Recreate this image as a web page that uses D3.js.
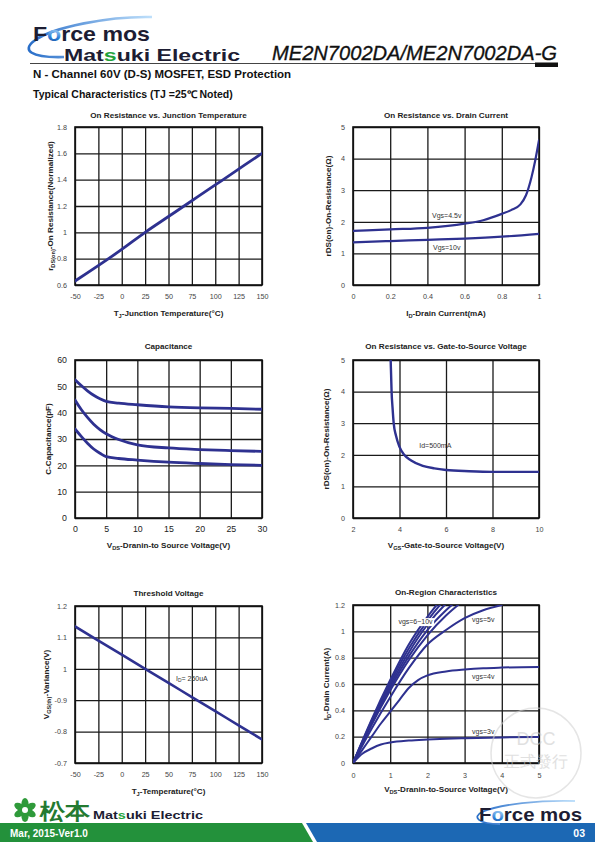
<!DOCTYPE html>
<html><head><meta charset="utf-8">
<script src="https://cdn.jsdelivr.net/npm/d3@7"></script>
<style>
body{margin:0;background:#fff}
svg{display:block}
text{font-family:"Liberation Sans",Arial,sans-serif}
</style>
</head><body>
<svg id="page" width="595" height="842"></svg>
<script>
// ---------------- DATA ----------------
// Chart 1: On Resistance vs. Junction Temperature
const c1Temp = [-50, 0, 25, 50, 75, 100, 125, 150];
const c1Res  = [0.63, 0.87, 1.0, 1.12, 1.24, 1.36, 1.48, 1.6];
const c1XTicks = [-50, -25, 0, 25, 50, 75, 100, 125, 150];
const c1YTicks = [0.6, 0.8, 1, 1.2, 1.4, 1.6, 1.8];
const c1YLabels = ["0.6", "0.8", "1", "1.2", "1.4", "1.6", "1.8"];

// Chart 2: On Resistance vs. Drain Current
const c2IdA = [0, 0.2, 0.4, 0.6, 0.7, 0.8, 0.85, 0.9, 0.93, 0.96, 0.98, 1.0];
const c2Vgs45 = [1.71, 1.76, 1.81, 1.94, 2.05, 2.25, 2.37, 2.55, 2.84, 3.42, 3.95, 4.58];
const c2IdB = [0, 0.2, 0.4, 0.6, 0.8, 1.0];
const c2Vgs10 = [1.35, 1.39, 1.43, 1.47, 1.53, 1.62];
const c2XTicks = [0, 0.2, 0.4, 0.6, 0.8, 1];
const c2XLabels = ["0", "0.2", "0.4", "0.6", "0.8", "1"];
const c2YTicks = [0, 1, 2, 3, 4, 5];

// Chart 3: Capacitance
const c3Vds = [0, 1, 2, 3, 4, 5, 7, 10, 15, 20, 25, 30];
const c3Ciss = [52.5, 50.3, 48.3, 46.6, 45.3, 44.3, 43.6, 43.0, 42.2, 41.8, 41.6, 41.3];
const c3Coss = [44.8, 41.2, 38.2, 35.6, 33.6, 32.0, 29.8, 27.8, 26.6, 26.0, 25.6, 25.3];
const c3Crss = [33.8, 31.0, 28.4, 26.2, 24.6, 23.3, 22.6, 22.0, 21.2, 20.7, 20.3, 20.0];
const c3XTicks = [0, 5, 10, 15, 20, 25, 30];
const c3YTicks = [0, 10, 20, 30, 40, 50, 60];

// Chart 4: On Resistance vs. Gate-to-Source Voltage
const c4Vgs = [3.62, 3.64, 3.66, 3.7, 3.75, 3.85, 4.0, 4.2, 4.5, 5.0, 5.5, 6.0, 7.0, 8.0, 10.0];
const c4Res = [5.0, 4.5, 4.0, 3.5, 3.0, 2.6, 2.25, 2.0, 1.82, 1.65, 1.57, 1.52, 1.48, 1.46, 1.46];
const c4XTicks = [2, 4, 6, 8, 10];
const c4YTicks = [0, 1, 2, 3, 4, 5];

// Chart 5: Threshold Voltage
const c5Temp = [-50, 0, 25, 50, 75, 100, 125, 150];
const c5Vth  = [1.135, 1.045, 1.0, 0.955, 0.91, 0.865, 0.82, 0.775];
const c5XTicks = [-50, -25, 0, 25, 50, 75, 100, 125, 150];
const c5YTicks = [0.7, 0.8, 0.9, 1.0, 1.1, 1.2];
const c5YLabels = ["-0.7", "-0.8", "-0.9", "1", "1.1", "1.2"];

// Chart 6: On-Region Characteristics
const c6Vds3 = [0, 0.25, 0.5, 0.75, 1, 1.5, 2, 2.5, 3, 4, 5];
const c6Vgs3 = [0, 0.07, 0.11, 0.14, 0.155, 0.17, 0.178, 0.184, 0.188, 0.194, 0.198];
const c6Vds4 = [0, 0.25, 0.5, 0.75, 1, 1.25, 1.5, 1.75, 2, 2.5, 3, 3.5, 4, 5];
const c6Vgs4 = [0, 0.1, 0.2, 0.3, 0.39, 0.48, 0.57, 0.63, 0.665, 0.695, 0.71, 0.72, 0.725, 0.73];
const c6Vds5 = [0, 0.5, 1, 1.5, 2, 2.5, 3, 3.5, 4];
const c6Vgs5 = [0, 0.26, 0.5, 0.72, 0.9, 1.01, 1.1, 1.16, 1.2];
const c6VdsHi = [0, 0.5, 1, 1.5, 2, 2.5, 3];
const c6Vgs6  = [0, 0.29, 0.55, 0.78, 0.97, 1.12, 1.24];
const c6Vgs7  = [0, 0.30, 0.57, 0.81, 1.01, 1.16, 1.28];
const c6Vgs8  = [0, 0.31, 0.59, 0.84, 1.05, 1.21, 1.33];
const c6Vgs9  = [0, 0.32, 0.61, 0.87, 1.08, 1.25, 1.37];
const c6Vgs10 = [0, 0.33, 0.63, 0.90, 1.11, 1.28, 1.40];
const c6XTicks = [0, 1, 2, 3, 4, 5];
const c6YTicks = [0, 0.2, 0.4, 0.6, 0.8, 1, 1.2];
const c6YLabels = ["0", "0.2", "0.4", "0.6", "0.8", "1", "1.2"];

// ---------------- DRAWING ----------------
const svg = d3.select("#page");
const LINE = "#2e3190";
const zip = (a, b) => a.map((v, i) => [v, b[i]]);

function rich(sel, parts) {
  parts.forEach(([t, sub]) => {
    const ts = sel.append("tspan").text(t);
    if (sub) ts.attr("font-size", "0.7em").attr("baseline-shift", "-25%");
  });
  return sel;
}

let clipId = 0;
function chart(o) {
  const g = svg.append("g");
  const x = d3.scaleLinear().domain(o.xd).range([o.x0, o.x1]);
  const y = d3.scaleLinear().domain(o.yd).range([o.y1, o.y0]);
  const fs = o.tickFs || 7.2;

  const xa = g.append("g").attr("transform", `translate(0,${o.y1})`)
    .call(d3.axisBottom(x).tickValues(o.xt).tickFormat((d, i) => o.xl ? o.xl[i] : d)
      .tickSize(-(o.y1 - o.y0)).tickPadding(o.xPad || 9));
  const ya = g.append("g").attr("transform", `translate(${o.x0},0)`)
    .call(d3.axisLeft(y).tickValues(o.yt).tickFormat((d, i) => o.yl ? o.yl[i] : d)
      .tickSize(-(o.x1 - o.x0)).tickPadding(o.yPad || 8));
  [xa, ya].forEach(a => {
    a.select(".domain").remove();
    a.selectAll(".tick line").attr("stroke", "#1a1a1a").attr("stroke-width", 1.3);
    a.selectAll(".tick text").attr("font-size", fs).attr("fill", o.tickFill || "#444")
      .attr("font-family", '"Liberation Sans",Arial,sans-serif');
  });
  g.append("rect").attr("x", o.x0).attr("y", o.y0).attr("width", o.x1 - o.x0).attr("height", o.y1 - o.y0)
    .attr("fill", "none").attr("stroke", "#111").attr("stroke-width", 1.6);

  const cid = "clip" + (clipId++);
  g.append("clipPath").attr("id", cid).append("rect")
    .attr("x", o.x0).attr("y", o.y0).attr("width", o.x1 - o.x0).attr("height", o.y1 - o.y0);
  const line = d3.line().x(d => x(d[0])).y(d => y(d[1])).curve(d3.curveMonotoneX);
  const lg = g.append("g").attr("clip-path", `url(#${cid})`);
  o.series.forEach(s => {
    lg.append("path").attr("d", line(s)).attr("fill", "none").attr("stroke", LINE)
      .attr("stroke-width", o.lw || 2.6).attr("stroke-linecap", "round").attr("stroke-linejoin", "round");
  });

  (o.notes || []).forEach(n => {
    const t = g.append("text").attr("x", x(n.x)).attr("y", y(n.y)).attr("font-size", 7).attr("fill", "#333");
    rich(t, n.parts);
    if (n.bg) {
      const bb = t.node().getBBox();
      g.insert("rect", () => t.node()).attr("x", bb.x - 1).attr("y", bb.y).attr("width", bb.width + 2)
        .attr("height", bb.height).attr("fill", "#fff");
    }
  });

  g.append("text").attr("x", (o.x0 + o.x1) / 2).attr("y", o.ty).attr("text-anchor", "middle")
    .attr("font-size", 8.1).attr("font-weight", "bold").attr("fill", "#222").text(o.title);
  rich(g.append("text").attr("x", (o.x0 + o.x1) / 2).attr("y", o.xly).attr("text-anchor", "middle")
    .attr("font-size", 8.1).attr("font-weight", "bold").attr("fill", "#222"), o.xlab);
  rich(g.append("text").attr("transform", `translate(${o.ylx},${(o.y0 + o.y1) / 2}) rotate(-90)`)
    .attr("text-anchor", "middle").attr("font-size", 8.1).attr("font-weight", "bold").attr("fill", "#222"), o.ylab);
}

chart({
  x0: 75, x1: 262, y0: 127, y1: 285, xd: [-50, 150], yd: [0.6, 1.8],
  xt: c1XTicks, yt: c1YTicks, yl: c1YLabels, lw: 2.8,
  series: [zip(c1Temp, c1Res)],
  title: "On Resistance vs. Junction Temperature", ty: 118,
  xlab: [["T", 0], ["J", 1], ["-Junction Temperature(°C)", 0]], xly: 316,
  ylab: [["r", 0], ["DS(on)", 1], ["-On Resistance(Normalized)", 0]], ylx: 53
});

chart({
  x0: 353, x1: 539, y0: 127, y1: 285, xd: [0, 1], yd: [0, 5],
  xt: c2XTicks, xl: c2XLabels, yt: c2YTicks, lw: 2.2,
  series: [zip(c2IdA, c2Vgs45), zip(c2IdB, c2Vgs10)],
  notes: [
    { x: 0.425, y: 2.12, parts: [["Vgs=4.5v", 0]] },
    { x: 0.43, y: 1.12, parts: [["Vgs=10v", 0]] }
  ],
  title: "On Resistance vs. Drain Current", ty: 118,
  xlab: [["I", 0], ["D", 1], ["-Drain Current(mA)", 0]], xly: 316,
  ylab: [["rDS(on)-On-Resistance(Ω)", 0]], ylx: 331
});

chart({
  x0: 75, x1: 262, y0: 360, y1: 518, xd: [0, 30], yd: [0, 60],
  xt: c3XTicks, yt: c3YTicks, tickFs: 8.8, tickFill: "#222", lw: 2.8, xPad: 8,
  series: [zip(c3Vds, c3Ciss), zip(c3Vds, c3Coss), zip(c3Vds, c3Crss)],
  title: "Capacitance", ty: 349,
  xlab: [["V", 0], ["DS", 1], ["-Dranin-to Source Voltage(V)", 0]], xly: 548,
  ylab: [["C-Capacitance(pF)", 0]], ylx: 51
});

chart({
  x0: 353, x1: 539, y0: 360, y1: 518, xd: [2, 10], yd: [0, 5],
  xt: c4XTicks, yt: c4YTicks, lw: 2.4,
  series: [zip(c4Vgs, c4Res)],
  notes: [{ x: 4.85, y: 2.2, parts: [["Id=500mA", 0]] }],
  title: "On Resistance vs. Gate-to-Source Voltage", ty: 349,
  xlab: [["V", 0], ["GS", 1], ["-Gate-to-Source Voltage(V)", 0]], xly: 548,
  ylab: [["rDS(on)-On-Resistance(Ω)", 0]], ylx: 329
});

chart({
  x0: 75, x1: 262, y0: 606, y1: 763, xd: [-50, 150], yd: [0.7, 1.2],
  xt: c5XTicks, yt: c5YTicks, yl: c5YLabels, lw: 2.6,
  series: [zip(c5Temp, c5Vth)],
  notes: [{ x: 58, y: 0.962, parts: [["I", 0], ["D", 1], ["= 250uA", 0]] }],
  title: "Threshold Voltage", ty: 596,
  xlab: [["T", 0], ["J", 1], ["-Temperature(°C)", 0]], xly: 794,
  ylab: [["V", 0], ["GS(th)", 1], ["-Variance(V)", 0]], ylx: 49
});

chart({
  x0: 353, x1: 539, y0: 605, y1: 763, xd: [0, 5], yd: [0, 1.2],
  xt: c6XTicks, yt: c6YTicks, yl: c6YLabels, lw: 2.0, xPad: 10,
  series: [zip(c6Vds3, c6Vgs3), zip(c6Vds4, c6Vgs4), zip(c6Vds5, c6Vgs5),
           zip(c6VdsHi, c6Vgs6), zip(c6VdsHi, c6Vgs7), zip(c6VdsHi, c6Vgs8),
           zip(c6VdsHi, c6Vgs9), zip(c6VdsHi, c6Vgs10)],
  notes: [
    { x: 1.22, y: 1.055, parts: [["vgs=6~10v", 0]], bg: true },
    { x: 3.2, y: 1.07, parts: [["vgs=5v", 0]] },
    { x: 3.2, y: 0.635, parts: [["vgs=4v", 0]] },
    { x: 3.2, y: 0.22, parts: [["vgs=3v", 0]] }
  ],
  title: "On-Region Characteristics", ty: 595,
  xlab: [["V", 0], ["DS", 1], ["-Dranin-to-Source Voltage(V)", 0]], xly: 792,
  ylab: [["I", 0], ["D", 1], ["-Drain Current(A)", 0]], ylx: 329
});

// ---------------- HEADER ----------------
const defs = svg.append("defs");
const rg = defs.append("radialGradient").attr("id", "ball").attr("cx", "35%").attr("cy", "35%").attr("r", "70%");
rg.append("stop").attr("offset", "0%").attr("stop-color", "#bfe3ff");
rg.append("stop").attr("offset", "55%").attr("stop-color", "#2d7fd6");
rg.append("stop").attr("offset", "100%").attr("stop-color", "#0d3f8f");
const sw = defs.append("linearGradient").attr("id", "swoosh").attr("x1", "0").attr("x2", "1");
sw.append("stop").attr("offset", "0%").attr("stop-color", "#2a6fc9");
sw.append("stop").attr("offset", "100%").attr("stop-color", "#bfe0fb");

svg.append("path").attr("d", "M64 57 C 30 58, 22 50, 34 41 C 52 27, 110 16, 152 17")
  .attr("fill", "none").attr("stroke", "url(#swoosh)").attr("stroke-width", 2.6);
const fm = svg.append("text").attr("x", 33).attr("y", 40.5).attr("font-size", 21).attr("font-weight", "bold")
  .attr("fill", "#1d1d33").attr("textLength", 117).attr("lengthAdjust", "spacingAndGlyphs");
fm.append("tspan").text("F");
fm.append("tspan").attr("fill", "url(#ball)").text("o");
fm.append("tspan").text("rce mos");
const me = svg.append("text").attr("x", 64).attr("y", 61).attr("font-size", 17).attr("font-weight", "bold")
  .attr("fill", "#1d1d33").attr("textLength", 176).attr("lengthAdjust", "spacingAndGlyphs");
me.append("tspan").text("Mat");
me.append("tspan").attr("fill", "#22a33a").text("s");
me.append("tspan").text("uki Electric");

svg.append("text").attr("x", 272).attr("y", 60).attr("font-size", 21).attr("font-style", "italic")
  .attr("fill", "#111").attr("stroke", "#111").attr("stroke-width", 0.35)
  .attr("textLength", 285).attr("lengthAdjust", "spacingAndGlyphs")
  .text("ME2N7002DA/ME2N7002DA-G");
svg.append("line").attr("x1", 30).attr("x2", 536).attr("y1", 63.5).attr("y2", 63.5)
  .attr("stroke", "#444").attr("stroke-width", 1);
svg.append("rect").attr("x", 535).attr("y", 62.5).attr("width", 23).attr("height", 4.5).attr("fill", "#111");

svg.append("text").attr("x", 33).attr("y", 78).attr("font-size", 11.5).attr("font-weight", "bold")
  .attr("fill", "#111").text("N - Channel 60V (D-S) MOSFET, ESD Protection");
svg.append("text").attr("x", 33).attr("y", 97.5).attr("font-size", 10.5).attr("font-weight", "bold")
  .attr("fill", "#111").text("Typical Characteristics (TJ =25℃ Noted)");

// ---------------- WATERMARK ----------------
const wm = svg.append("g").attr("opacity", 0.55);
wm.append("circle").attr("cx", 536).attr("cy", 753).attr("r", 45).attr("fill", "none")
  .attr("stroke", "#d0d0d0").attr("stroke-width", 1.5);
wm.append("text").attr("x", 536).attr("y", 745).attr("text-anchor", "middle").attr("font-size", 18)
  .attr("font-family", '"Liberation Serif",serif').attr("fill", "#c8c8c8").text("DCC");
wm.append("text").attr("x", 536).attr("y", 767).attr("text-anchor", "middle").attr("font-size", 16)
  .attr("font-family", '"Noto Sans CJK TC",sans-serif').attr("fill", "#c8c8c8").text("正式發行");

// ---------------- FOOTER ----------------
svg.append("path").attr("d", "M0 823 L302 823 L313 842 L0 842 Z").attr("fill", "#23913b");
svg.append("path").attr("d", "M306 823 L595 823 L595 842 L317 842 Z").attr("fill", "#1c68b4");
svg.append("text").attr("x", 10).attr("y", 836.5).attr("font-size", 10).attr("font-weight", "bold")
  .attr("fill", "#fff").text("Mar, 2015-Ver1.0");
svg.append("text").attr("x", 585).attr("y", 836.5).attr("text-anchor", "end").attr("font-size", 10.5)
  .attr("font-weight", "bold").attr("fill", "#fff").text("03");

const star = svg.append("g").attr("transform", "translate(25,810)");
for (let i = 0; i < 6; i++) {
  star.append("ellipse").attr("cx", 0).attr("cy", -6).attr("rx", 3.6).attr("ry", 6)
    .attr("fill", "#2f9a3a").attr("transform", `rotate(${i * 60})`);
}
star.append("circle").attr("r", 3).attr("fill", "#fff");
svg.append("text").attr("x", 40).attr("y", 819).attr("font-size", 22).attr("font-weight", "bold")
  .attr("font-family", '"Noto Sans CJK JP",sans-serif').attr("fill", "#237a30")
  .attr("textLength", 50).attr("lengthAdjust", "spacingAndGlyphs").text("松本");
const me2 = svg.append("text").attr("x", 93).attr("y", 819).attr("font-size", 11).attr("font-weight", "bold")
  .attr("fill", "#1d1d33").attr("textLength", 110).attr("lengthAdjust", "spacingAndGlyphs");
me2.append("tspan").text("Mat");
me2.append("tspan").attr("fill", "#22a33a").text("s");
me2.append("tspan").text("uki Electric");

svg.append("path").attr("d", "M500 824 C 478 824, 472 817, 482 812 C 500 804, 540 800, 575 801")
  .attr("fill", "none").attr("stroke", "url(#swoosh)").attr("stroke-width", 1.8);
const fm2 = svg.append("text").attr("x", 479).attr("y", 821).attr("font-size", 19).attr("font-weight", "bold")
  .attr("fill", "#1d1d33").attr("textLength", 103).attr("lengthAdjust", "spacingAndGlyphs");
fm2.append("tspan").text("F");
fm2.append("tspan").attr("fill", "url(#ball)").text("o");
fm2.append("tspan").text("rce mos");
</script>
</body></html>
